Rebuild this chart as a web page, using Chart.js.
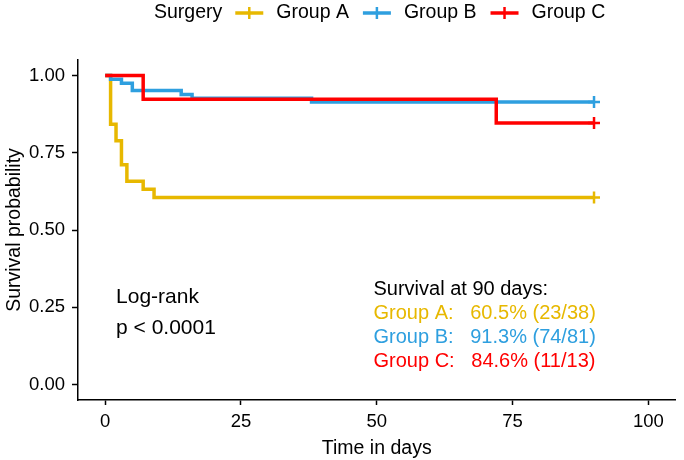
<!DOCTYPE html>
<html>
<head>
<meta charset="utf-8">
<script src="https://cdn.jsdelivr.net/npm/chart.js@4/dist/chart.umd.min.js"></script>
<style>
  html, body { margin: 0; padding: 0; background: #fff; }
  #km { display: block; }
</style>
</head>
<body>
<canvas id="km" width="684" height="460"></canvas>
<script>
const groups = ['Group A', 'Group B', 'Group C'];
const colors = ['#E7B800', '#2E9FDF', '#FF0000'];

// Kaplan-Meier steps (time in days, survival after that time)
const timesA = [0, 1, 2, 3, 4, 7, 9, 90];
const survA = [1, 0.842, 0.789, 0.711, 0.658, 0.632, 0.605, 0.605];
const timesB = [0, 1, 3, 5, 14, 16, 38, 90];
const survB = [1, 0.988, 0.975, 0.951, 0.938, 0.926, 0.914, 0.914];
const timesC = [0, 7, 72, 90];
const survC = [1, 0.923, 0.846, 0.846];

const xTicks = [0, 25, 50, 75, 100];
const yTicks = [0, 0.25, 0.5, 0.75, 1];

const summaryTitle = 'Survival at 90 days:';
const summaryLines = ['Group A:   60.5% (23/38)', 'Group B:   91.3% (74/81)', 'Group C:   84.6% (11/13)'];
const summaryY = [0.213, 0.136, 0.058];
const logRank = ['Log-rank', 'p < 0.0001'];

const FONT = "'Liberation Sans', Arial, sans-serif";

function series(times, surv) {
    return times.map((t, i) => ({ x: t, y: surv[i] }));
}

function dataset(i, times, surv, order) {
    const last = times.length - 1;
    return {
        label: groups[i],
        data: series(times, surv),
        borderColor: colors[i],
        backgroundColor: colors[i],
        borderWidth: 3.5,
        stepped: 'before',
        fill: false,
        order,
        pointStyle: 'cross',
        pointRadius: (ctx) => (ctx.dataIndex === last ? 6 : 0),
        pointBorderWidth: 2.5,
        pointBorderColor: colors[i],
        pointHoverRadius: 0,
    };
}

const legendPlugin = {
    id: 'ggLegend',
    afterDraw(chart) {
        const ctx = chart.ctx;
        ctx.save();
        ctx.font = `19.5px ${FONT}`;
        ctx.textBaseline = 'middle';
        ctx.fillStyle = '#000';
        let x = 154;
        const y = 13;
        ctx.fillText('Surgery', x, y);
        x += ctx.measureText('Surgery').width + 13;
        groups.forEach((g, i) => {
            ctx.strokeStyle = colors[i];
            ctx.lineWidth = 3.5;
            ctx.beginPath();
            ctx.moveTo(x, y);
            ctx.lineTo(x + 28, y);
            ctx.stroke();
            ctx.lineWidth = 2.5;
            ctx.beginPath();
            ctx.moveTo(x + 14, y - 6);
            ctx.lineTo(x + 14, y + 6);
            ctx.stroke();
            x += 28 + 13;
            ctx.fillStyle = '#000';
            ctx.fillText(g, x, y);
            x += ctx.measureText(g).width + 14;
        });
        ctx.restore();
    }
};

const notePlugin = {
    id: 'notes',
    afterDraw(chart) {
        const { ctx, scales } = chart;
        const xs = scales.x, ys = scales.y;
        ctx.save();
        ctx.textBaseline = 'alphabetic';
        ctx.textAlign = 'left';
        ctx.fillStyle = '#000';
        ctx.font = `21px ${FONT}`;
        ctx.fillText(logRank[0], xs.getPixelForValue(2), ys.getPixelForValue(0.265));
        ctx.fillText(logRank[1], xs.getPixelForValue(2), ys.getPixelForValue(0.165));

        ctx.font = `20px ${FONT}`;
        const sx = xs.getPixelForValue(49.4);
        ctx.fillText(summaryTitle, sx, ys.getPixelForValue(0.29));
        summaryLines.forEach((s, i) => {
            ctx.fillStyle = colors[i];
            ctx.fillText(s, sx, ys.getPixelForValue(summaryY[i]));
        });
        ctx.restore();
    }
};

new Chart(document.getElementById('km'), {
    type: 'line',
    data: {
        datasets: [
            dataset(0, timesA, survA, 2),
            dataset(1, timesB, survB, 1),
            dataset(2, timesC, survC, 0),
        ],
    },
    options: {
        responsive: false,
        devicePixelRatio: 1,
        animation: false,
        layout: { padding: { top: 60, right: 5, bottom: 0, left: 0 } },
        plugins: { legend: { display: false }, tooltip: { enabled: false } },
        scales: {
            x: {
                type: 'linear',
                min: -5,
                max: 105,
                afterBuildTicks: (s) => { s.ticks = xTicks.map((v) => ({ value: v })); },
                afterFit: (s) => { s.height = 60; },
                grid: { drawOnChartArea: false, drawTicks: true, tickLength: 5, color: '#000', tickWidth: 1.5 },
                border: { display: true, color: '#000', width: 1.5 },
                ticks: { color: '#000', font: { family: FONT, size: 18.5 }, padding: 6, maxRotation: 0 },
                title: { display: true, text: 'Time in days', color: '#000', font: { family: FONT, size: 19.5 }, padding: { top: 0, bottom: 0 } },
            },
            y: {
                type: 'linear',
                min: -0.05,
                max: 1.05,
                afterBuildTicks: (s) => { s.ticks = yTicks.map((v) => ({ value: v })); },
                afterFit: (s) => { s.width = 78; },
                grid: { drawOnChartArea: false, drawTicks: true, tickLength: 6, color: '#000', tickWidth: 1.5 },
                border: { display: true, color: '#000', width: 1.5 },
                ticks: { color: '#000', font: { family: FONT, size: 18.5 }, padding: 7, callback: (v) => Number(v).toFixed(2) },
                title: { display: true, text: 'Survival probability', color: '#000', font: { family: FONT, size: 19.5 }, padding: { top: 3, bottom: 0 } },
            },
        },
    },
    plugins: [legendPlugin, notePlugin],
});
</script>
</body>
</html>
